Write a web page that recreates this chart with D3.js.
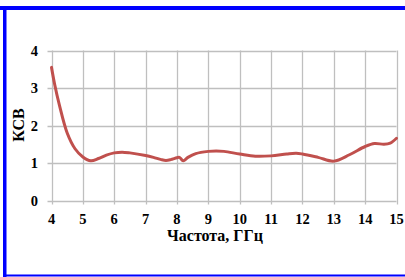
<!DOCTYPE html>
<html>
<head>
<meta charset="utf-8">
<script src="https://cdn.jsdelivr.net/npm/d3@7"></script>
<style>
  html, body { margin: 0; padding: 0; background: #fff; }
  svg { display: block; }
</style>
</head>
<body>
<svg id="chart" width="405" height="277"></svg>
<script>
// Frequency, GHz
const freq = [4, 4.1, 4.25, 4.5, 4.75, 5, 5.25, 5.5, 5.75, 6, 6.25, 6.5, 7, 7.25, 7.5, 7.65, 7.8, 8, 8.08, 8.2, 8.35, 8.6, 9, 9.25, 9.5, 10, 10.5, 11, 11.5, 11.8, 12, 12.5, 13, 13.5, 14, 14.3, 14.6, 14.8, 15];
// VSWR (КСВ)
const vswr = [3.55, 3.1, 2.55, 1.8, 1.38, 1.16, 1.06, 1.12, 1.21, 1.27, 1.29, 1.27, 1.2, 1.15, 1.09, 1.07, 1.09, 1.14, 1.15, 1.06, 1.15, 1.25, 1.31, 1.32, 1.31, 1.24, 1.18, 1.19, 1.24, 1.26, 1.24, 1.15, 1.05, 1.22, 1.44, 1.52, 1.5, 1.53, 1.66];
const xTicks = [4, 5, 6, 7, 8, 9, 10, 11, 12, 13, 14, 15];
const yTicks = [0, 1, 2, 3, 4];

const svg = d3.select('#chart');
const plotLeft = 51.5, plotRight = 396.5, plotTop = 50.5, plotBottom = 200.5;
const serif = '"Liberation Serif", "Times New Roman", serif';

// Blue frame
svg.append('rect').attr('x', 0).attr('y', 6).attr('width', 405).attr('height', 4).attr('fill', '#0000ff');
svg.append('rect').attr('x', 3).attr('y', 6).attr('width', 3.5).attr('height', 271).attr('fill', '#0000ff');
svg.append('rect').attr('x', 3).attr('y', 274.5).attr('width', 402).attr('height', 2).attr('fill', '#0000ff');

const x = d3.scaleLinear().domain([4, 15]).range([plotLeft, plotRight]);
const y = d3.scaleLinear().domain([0, 4]).range([plotBottom, plotTop]);

const grid = svg.append('g').attr('stroke', '#bfbfbf').attr('stroke-width', 1.3);

// Vertical grid lines + ticks below the axis
xTicks.forEach(t => {
    grid.append('line')
        .attr('x1', Math.round(x(t)) + 0.5).attr('x2', Math.round(x(t)) + 0.5)
        .attr('y1', plotTop).attr('y2', plotBottom + 4);
});
// Horizontal grid lines + ticks left of the axis
yTicks.forEach(t => {
    grid.append('line')
        .attr('x1', plotLeft - 4).attr('x2', plotRight)
        .attr('y1', Math.round(y(t)) + 0.5).attr('y2', Math.round(y(t)) + 0.5);
});

// Tick labels
svg.selectAll('.xlab')
    .data(xTicks)
    .join('text')
    .attr('class', 'xlab')
    .attr('x', d => x(d))
    .attr('y', 224)
    .attr('text-anchor', 'middle')
    .style('font-family', serif)
    .style('font-weight', 'bold')
    .style('font-size', '14.5px')
    .text(d => d);

svg.selectAll('.ylab')
    .data(yTicks)
    .join('text')
    .attr('class', 'ylab')
    .attr('x', 38)
    .attr('y', d => y(d) + 5)
    .attr('text-anchor', 'end')
    .style('font-family', serif)
    .style('font-weight', 'bold')
    .style('font-size', '14.5px')
    .text(d => d);

// Axis titles
svg.append('text')
    .attr('x', 215)
    .attr('y', 241)
    .attr('text-anchor', 'middle')
    .style('font-family', serif)
    .style('font-weight', 'bold')
    .style('font-size', '16px')
    .text('Частота, ГГц');

svg.append('text')
    .attr('transform', 'translate(24,125) rotate(-90)')
    .attr('text-anchor', 'middle')
    .style('font-family', serif)
    .style('font-weight', 'bold')
    .style('font-size', '16px')
    .text('КСВ');

// VSWR curve
const line = d3.line()
    .x((d, i) => x(freq[i]))
    .y(d => y(d))
    .curve(d3.curveCatmullRom.alpha(0.5));

svg.append('path')
    .datum(vswr)
    .attr('d', line)
    .attr('fill', 'none')
    .attr('stroke', '#c0504d')
    .attr('stroke-width', 3)
    .attr('stroke-linecap', 'round')
    .attr('stroke-linejoin', 'round');
</script>
</body>
</html>
